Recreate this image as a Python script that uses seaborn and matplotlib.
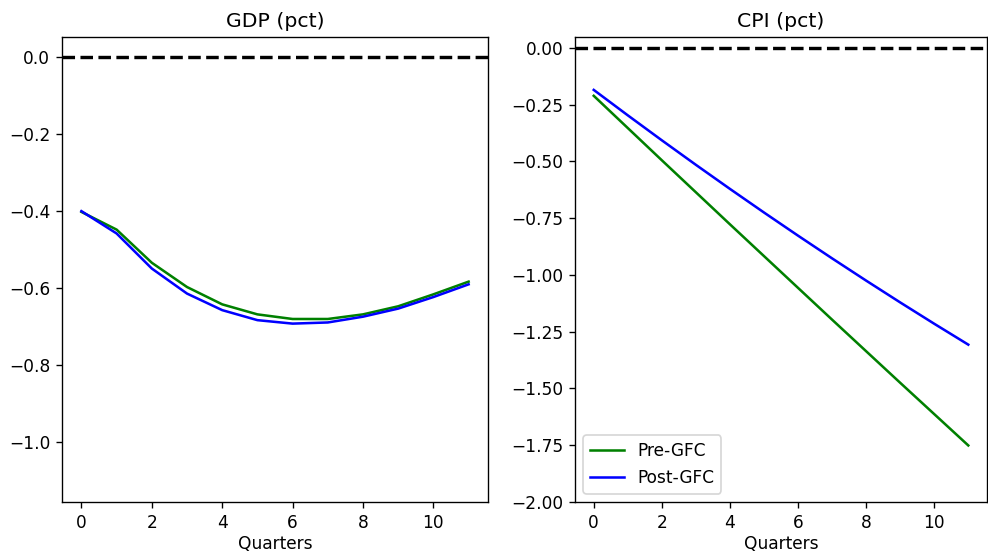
import numpy as np
import pandas as pd
import matplotlib
matplotlib.use("Agg")
import matplotlib.pyplot as plt
import seaborn as sns

quarters = list(range(12))
gdp_pre = [-0.402, -0.448, -0.534, -0.597, -0.642, -0.668, -0.680, -0.680, -0.668, -0.647, -0.616, -0.583]
gdp_post = [-0.400, -0.458, -0.549, -0.614, -0.657, -0.683, -0.692, -0.689, -0.674, -0.653, -0.623, -0.590]
cpi_pre = [-0.211, -0.353, -0.495, -0.636, -0.777, -0.917, -1.057, -1.197, -1.336, -1.475, -1.613, -1.751]
cpi_post = [-0.185, -0.297, -0.407, -0.515, -0.621, -0.725, -0.827, -0.927, -1.025, -1.121, -1.215, -1.307]
series_names = ["Pre-GFC", "Post-GFC"]
colors = {"Pre-GFC": "green", "Post-GFC": "blue"}


def to_long(pre, post):
    return pd.DataFrame({
        "Quarters": quarters * 2,
        "value": pre + post,
        "regime": [series_names[0]] * len(pre) + [series_names[1]] * len(post),
    })


DPI = 122
fig = plt.figure(figsize=(988 / DPI, 554 / DPI), dpi=DPI)
ax1 = fig.add_axes([0.0628, 0.0939, 0.4311, 0.8393])
ax2 = fig.add_axes([0.582, 0.0939, 0.417, 0.8393])

for ax, pre, post, title, show_legend in [
    (ax1, gdp_pre, gdp_post, "GDP (pct)", False),
    (ax2, cpi_pre, cpi_post, "CPI (pct)", True),
]:
    sns.lineplot(data=to_long(pre, post), x="Quarters", y="value", hue="regime",
                 palette=colors, linewidth=1.5, ax=ax, legend=show_legend)
    ax.axhline(0, color="black", linestyle="--", linewidth=2)
    ax.set_title(title, fontsize=12)
    ax.set_ylabel("")
    ax.set_xlabel("Quarters", labelpad=2.0)
    ax.set_xticks([0, 2, 4, 6, 8, 10])

ax1.set_ylim(-1.155, 0.052)
ax1.set_yticks([0.0, -0.2, -0.4, -0.6, -0.8, -1.0])
ax2.set_ylim(-2.0, 0.048)
ax2.set_yticks([0.0, -0.25, -0.5, -0.75, -1.0, -1.25, -1.5, -1.75, -2.0])
ax2.legend(loc="lower left", title=None)

fig.savefig("out.png", dpi=DPI)
